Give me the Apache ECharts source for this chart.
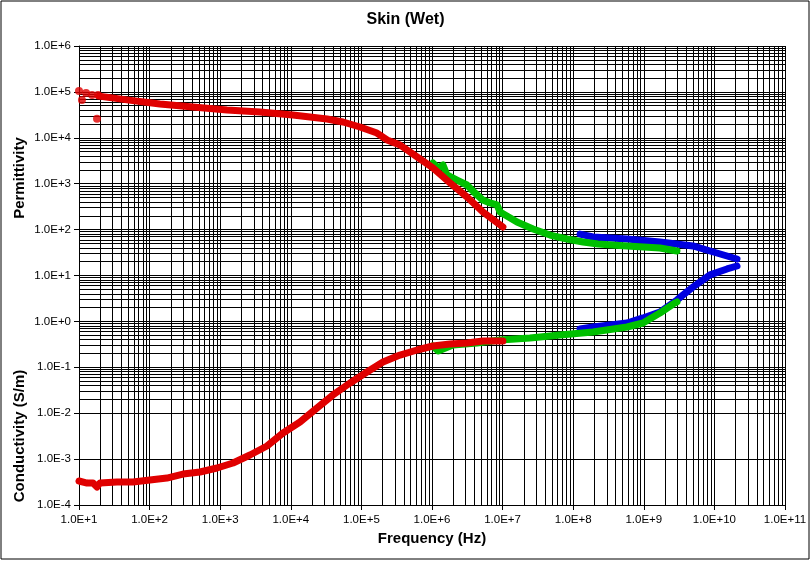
<!DOCTYPE html>
<html>
<head>
<meta charset="utf-8">
<title>Skin (Wet)</title>
<script src="https://cdn.jsdelivr.net/npm/echarts@6.0.0/dist/echarts.min.js"></script>
<style>
  html, body { margin: 0; padding: 0; background: #fff; }
  #main { width: 811px; height: 561px; }
</style>
</head>
<body>
<div id="main"></div>
<script>
// [frequency (Hz), value]
const permRedDots = [
  [10, 1.05e5], [11, 6.7e4], [12.6, 9.5e4], [15.3, 8.6e4], [18, 2.6e4], [18.6, 8.6e4]
];
const permRed = [
  [19.2, 8.1e4], [47.9, 6.7e4], [140, 5.45e4], [412, 4.69e4], [1250, 4.04e4],
  [3660, 3.65e4], [1.07e4, 3.14e4], [3.26e4, 2.57e4], [5.49e4, 2.21e4],
  [9.55e4, 1.72e4], [1.66e5, 1.27e4], [2.31e5, 8.96e3], [3.52e5, 6.97e3],
  [6.14e5, 3.82e3], [1.03e6, 2.2e3], [1.8e6, 1.04e3], [3.13e6, 513],
  [5.27e6, 242], [1.01e7, 114]
];
const permGreen = [
  [1.03e6, 2.83e3], [1.22e6, 2.2e3], [1.43e6, 2.55e3], [1.63e6, 1.55e3],
  [2.26e6, 1.2e3], [3.13e6, 937], [4.06e6, 627], [5.27e6, 441], [6.63e6, 380],
  [8.34e6, 344], [9.19e6, 242], [1.15e7, 198], [1.6e7, 146], [2.7e7, 103],
  [4.69e7, 76], [8.17e7, 62.4], [1.38e8, 53.7], [2.24e8, 48.5], [5.78e8, 44],
  [1.69e9, 39.7], [2.95e9, 34.2]
];
const permBlue = [
  [1.25e8, 80], [1.91e8, 69], [5.78e8, 62.4], [1.69e9, 53.7], [4.98e9, 44],
  [8.67e9, 34.2], [1.51e10, 26.6], [2.09e10, 22.9]
];
const condRed = [
  [10, 3.33e-4], [13, 3.01e-4], [15.8, 3.01e-4], [18, 2.47e-4], [19.8, 3.01e-4],
  [34.5, 3.17e-4], [58.2, 3.17e-4], [101, 3.51e-4], [176, 3.87e-4], [297, 4.73e-4],
  [517, 5.24e-4], [901, 6.4e-4], [1520, 8.22e-4], [2640, 1.23e-3], [4600, 1.93e-3],
  [7760, 3.71e-3], [1.35e4, 6.43e-3], [2.35e4, 1.3e-2], [3.96e4, 2.5e-2],
  [6.9e4, 4.55e-2], [1.2e5, 7.91e-2], [2.02e5, 0.13], [3.52e5, 0.185],
  [6.14e5, 0.238], [1.03e6, 0.291], [1.8e6, 0.322], [3.13e6, 0.338],
  [5.27e6, 0.374], [1.01e7, 0.374]
];
const condGreen = [
  [1.03e6, 0.291], [1.22e6, 0.226], [1.98e6, 0.306], [4.33e6, 0.338],
  [9.19e6, 0.394], [2.44e7, 0.435], [6.5e7, 0.506], [1.91e8, 0.588],
  [5.78e8, 0.755], [9.75e8, 0.923], [1.69e9, 1.52], [2.6e9, 2.39], [2.95e9, 2.65]
];
const condBlue = [
  [1.25e8, 0.682], [1.91e8, 0.755], [5.78e8, 0.923], [9.75e8, 1.19], [1.69e9, 1.6],
  [2.95e9, 2.92], [3.59e9, 3.76], [4.98e9, 5.61], [8.67e9, 10.3], [1.51e10, 13.9],
  [2.09e10, 16.1]
];

const xDecades = [1, 2, 3, 4, 5, 6, 7, 8, 9, 10];
const yDecades = [-4, -3, -2, -1, 0, 1, 2, 3, 4, 5];
const minorSteps = [2, 3, 4, 5, 6, 7, 8, 9];

const RED = '#e00000', GREEN = '#00c000', BLUE = '#0000e0';

// minor log gridlines (2..9 of every decade)
const minorLines = [];
xDecades.forEach(d => minorSteps.forEach(k => minorLines.push({ xAxis: k * Math.pow(10, d) })));
yDecades.forEach(d => minorSteps.forEach(k => minorLines.push({ yAxis: k * Math.pow(10, d) })));

function sciLabel(v) {
  const e = Math.round(Math.log10(v));
  return '1.0E' + (e >= 0 ? '+' : '-') + Math.abs(e);
}

const axisFont = { color: '#000', fontSize: 11.5, fontFamily: 'Liberation Sans, Arial, sans-serif' };

function curve(name, data, color) {
  return {
    name: name,
    type: 'line',
    data: data,
    showSymbol: false,
    z: 3,
    lineStyle: { color: color, width: 7, cap: 'round', join: 'round' },
    itemStyle: { color: color }
  };
}

const chart = echarts.init(document.getElementById('main'));

const option = {
  animation: false,
  backgroundColor: '#fff',
  title: {
    text: 'Skin (Wet)',
    left: 'center',
    top: 7,
    textStyle: { fontSize: 16, fontWeight: 'bold', color: '#000', fontFamily: 'Liberation Sans, Arial, sans-serif' }
  },
  grid: { left: 79, right: 26, top: 46, bottom: 56 },
  xAxis: {
    type: 'log',
    logBase: 10,
    min: 10,
    max: 1e11,
    interval: 1,
    name: 'Frequency (Hz)',
    nameLocation: 'middle',
    nameGap: 22,
    nameTextStyle: { fontSize: 15, fontWeight: 'bold', color: '#000', fontFamily: 'Liberation Sans, Arial, sans-serif' },
    axisLine: { show: true, lineStyle: { color: '#000', width: 1 } },
    axisTick: { show: true, length: 5, interval: 0, lineStyle: { color: '#000' } },
    axisLabel: Object.assign({ formatter: sciLabel, margin: 9, interval: 0, hideOverlap: false, showMinLabel: true, showMaxLabel: true }, axisFont),
    splitLine: { show: true, interval: 0, lineStyle: { color: '#000', width: 1 } }
  },
  yAxis: {
    type: 'log',
    logBase: 10,
    min: 1e-4,
    max: 1e6,
    interval: 1,
    axisLine: { show: true, lineStyle: { color: '#000', width: 1 } },
    axisTick: { show: true, length: 5, interval: 0, lineStyle: { color: '#000' } },
    axisLabel: Object.assign({ formatter: sciLabel, margin: 8, interval: 0, hideOverlap: false }, axisFont),
    splitLine: { show: true, interval: 0, lineStyle: { color: '#000', width: 1 } }
  },
  graphic: [
    {
      type: 'rect',
      shape: { x: 1, y: 1, width: 808, height: 558 },
      style: { fill: 'none', stroke: '#000', lineWidth: 1 },
      silent: true
    },
    {
      type: 'text',
      x: 20, y: 178,
      rotation: Math.PI / 2,
      style: { text: 'Permittivity', font: 'bold 15px Liberation Sans, Arial, sans-serif', fill: '#000', align: 'center', verticalAlign: 'middle' }
    },
    {
      type: 'text',
      x: 20, y: 436,
      rotation: Math.PI / 2,
      style: { text: 'Conductivity (S/m)', font: 'bold 15px Liberation Sans, Arial, sans-serif', fill: '#000', align: 'center', verticalAlign: 'middle' }
    }
  ],
  series: [
    {
      name: 'grid',
      type: 'scatter',
      data: [],
      z: 1,
      silent: true,
      markLine: {
        silent: true,
        z: 1,
        symbol: ['none', 'none'],
        label: { show: false },
        emphasis: { disabled: true },
        lineStyle: { color: '#000', width: 1, type: 'solid' },
        data: minorLines
      }
    },
    curve('Permittivity 3', permBlue, BLUE),
    curve('Conductivity 3', condBlue, BLUE),
    curve('Permittivity 2', permGreen, GREEN),
    curve('Conductivity 2', condGreen, GREEN),
    curve('Permittivity 1', permRed, RED),
    curve('Conductivity 1', condRed, RED),
    {
      name: 'Permittivity 1 dots',
      type: 'scatter',
      data: permRedDots,
      symbol: 'circle',
      symbolSize: 8,
      z: 3,
      itemStyle: { color: RED }
    }
  ]
};

chart.setOption(option);
window.addEventListener('resize', () => chart.resize());
</script>
</body>
</html>
